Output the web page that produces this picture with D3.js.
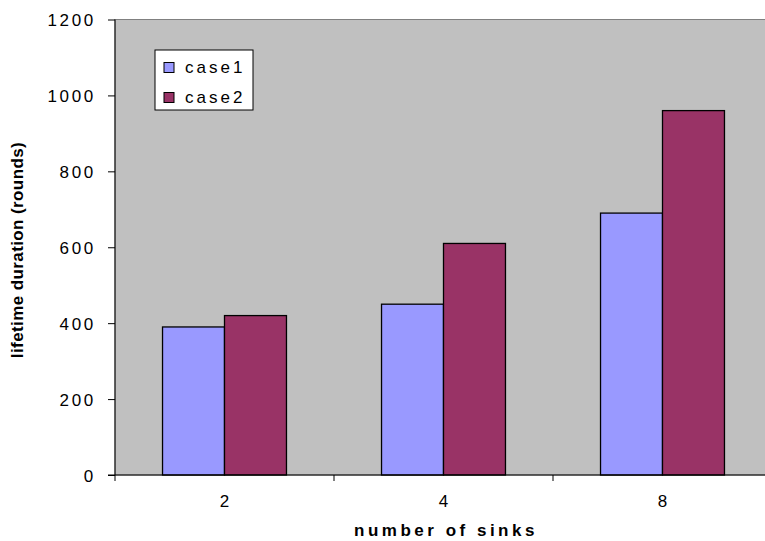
<!DOCTYPE html>
<html><head><meta charset="utf-8">
<script src="https://cdn.jsdelivr.net/npm/d3@7"></script>
<style>body{margin:0;background:#fff}svg{display:block;font-family:"Liberation Sans",Arial,sans-serif}</style>
</head><body><svg id="c" width="765" height="541"></svg>
<script>
const categories = ["2", "4", "8"];
const seriesNames = ["case1", "case2"];
const case1 = [390, 450, 690];
const case2 = [420, 610, 960];
const yTicks = [0, 200, 400, 600, 800, 1000, 1200];
const colors = ["#9999FF", "#993366"];

const svg = d3.select("#c");
const L = 115, R = 772, T = 19.5, B = 475;
const x = d3.scaleBand().domain(categories).range([L, R]).paddingInner(0.434).paddingOuter(0.217);
const xs = d3.scaleBand().domain(seriesNames).range([0, x.bandwidth()]);
const y = d3.scaleLinear().domain([0, 1200]).range([B, T]);

svg.append("rect").attr("x", L).attr("y", T).attr("width", R - L).attr("height", B - T)
  .attr("fill", "#C0C0C0").attr("stroke", "#808080").attr("stroke-width", 1);

const data = categories.map((c, i) => ({c, vals: [case1[i], case2[i]]}));
const g = svg.append("g");
data.forEach(d => {
  d.vals.forEach((v, j) => {
    g.append("rect").attr("x", x(d.c) + xs(seriesNames[j])).attr("y", y(v))
      .attr("width", xs.bandwidth()).attr("height", B - y(v))
      .attr("fill", colors[j]).attr("stroke", "#000").attr("stroke-width", 1.3);
  });
});

// y axis
const ya = svg.append("g").attr("transform", `translate(${L},0)`)
  .call(d3.axisLeft(y).tickValues(yTicks).tickSize(7).tickPadding(12).tickFormat(d3.format("d")));
ya.select(".domain").attr("stroke", "#000").attr("d", `M0,${T}V${B}`);
ya.selectAll(".tick line").attr("stroke", "#000");
ya.selectAll("text").attr("font-size", 17).attr("letter-spacing", 2.7).attr("dy", "0.36em")
  .attr("font-family", "Liberation Sans, Arial").attr("fill", "#000");

// x axis
const stepTicks = [L, L + x.step(), L + 2 * x.step()];
svg.append("line").attr("x1", L - 7).attr("x2", 765).attr("y1", B).attr("y2", B).attr("stroke", "#000");
stepTicks.forEach(t => svg.append("line").attr("x1", t).attr("x2", t).attr("y1", B).attr("y2", B + 6).attr("stroke", "#000"));
categories.forEach(c => svg.append("text").attr("x", x(c) + x.bandwidth() / 2).attr("y", 507)
  .attr("text-anchor", "middle").attr("font-size", 17).text(c));

svg.append("text").attr("x", 446).attr("y", 536).attr("text-anchor", "middle")
  .attr("font-size", 17).attr("font-weight", "bold").attr("letter-spacing", 3.5).text("number of sinks");
svg.append("text").attr("transform", "translate(23,250) rotate(-90)").attr("text-anchor", "middle")
  .attr("font-size", 17).attr("font-weight", "bold").attr("letter-spacing", 0.4).text("lifetime duration (rounds)");

// legend
const lg = svg.append("g");
lg.append("rect").attr("x", 155).attr("y", 50).attr("width", 98).attr("height", 60)
  .attr("fill", "#fff").attr("stroke", "#000").attr("stroke-width", 1);
seriesNames.forEach((s, i) => {
  const cy = 67.5 + i * 30;
  lg.append("rect").attr("x", 164).attr("y", cy - 5).attr("width", 10).attr("height", 10)
    .attr("fill", colors[i]).attr("stroke", "#000");
  lg.append("text").attr("x", 185).attr("y", cy + 5).attr("font-size", 17).attr("letter-spacing", 3).text(s);
});
</script></body></html>
